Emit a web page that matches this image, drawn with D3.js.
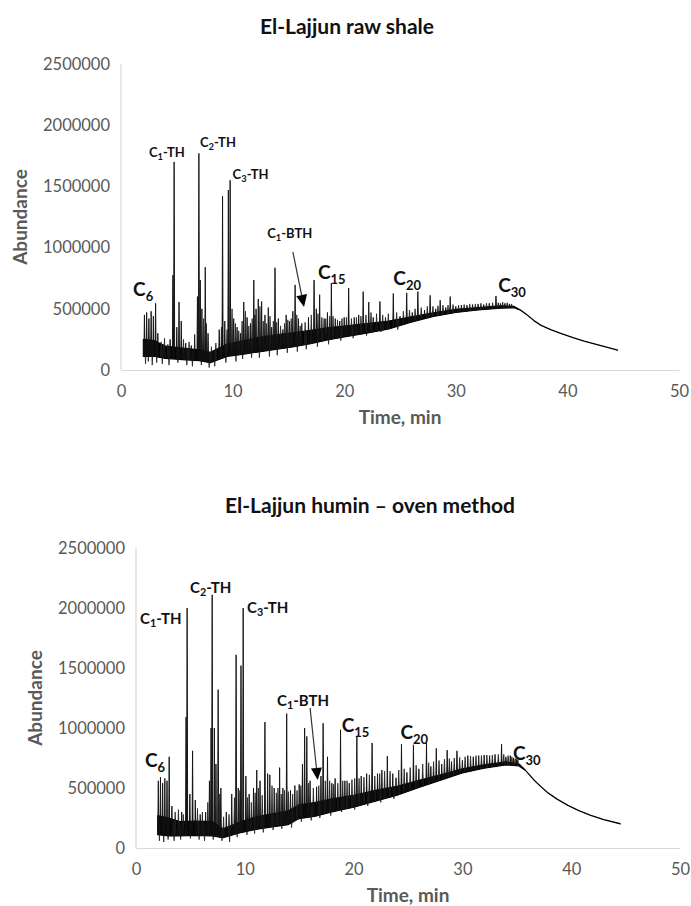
<!DOCTYPE html>
<html>
<head>
<meta charset="utf-8">
<script src="https://cdn.jsdelivr.net/npm/d3@7"></script>
<style>
  body { margin: 0; background: #fff; }
  text { font-family: Lato, "Open Sans", sans-serif; }
</style>
</head>
<body>
<script>
// ---------- data ----------
const xTicks = [0, 10, 20, 30, 40, 50];
const yTicks = [0, 500000, 1000000, 1500000, 2000000, 2500000];

// raw shale: baseline band (time, low edge, high edge)
const rawBandT  = [2.0, 3.0, 4.0, 5.5, 7.0, 8.0, 9.5, 11, 12.5, 14, 15.5, 17, 18.5, 20, 22, 24, 26, 28, 30, 32, 34, 35.2,
                   35.8, 36.4, 37.0, 37.6, 38.5, 39.4, 40.5, 41.5, 42.5, 43.5, 44.5];
const rawBandLo = [110000, 110000, 95000, 85000, 75000, 60000, 110000, 130000, 150000, 170000, 190000, 215000, 245000, 270000, 300000, 335000, 390000, 438000, 470000, 490000, 505000, 508000,
                   488000, 448000, 403000, 366000, 328000, 298000, 263000, 235000, 211000, 186000, 161000];
const rawBandHi = [250000, 240000, 195000, 180000, 165000, 145000, 210000, 240000, 270000, 290000, 305000, 325000, 345000, 360000, 380000, 400000, 435000, 468000, 495000, 510000, 525000, 520000,
                   490000, 450000, 405000, 368000, 330000, 300000, 265000, 237000, 213000, 188000, 163000];
// raw shale: main peaks (time, apex abundance)
const rawPeakT = [2.1, 2.3, 2.5, 2.7, 2.9, 3.1, 3.3, 4.4, 4.65, 4.76, 5.0, 5.2, 5.4, 5.8, 6.3, 6.6, 6.85, 6.98, 7.1, 7.25, 7.55, 7.8,
                  8.8, 9.1, 9.3, 9.62, 9.78, 10.1, 10.4, 10.7, 11.0, 11.3, 11.6, 11.9, 12.1, 12.3, 12.6, 12.9, 13.2, 13.5, 13.8, 14.1,
                  14.5, 14.8, 15.1, 15.4, 15.6, 15.9, 16.2, 16.8, 17.3, 17.5, 17.8, 18.2, 18.5, 18.85, 19.2, 19.6, 20.0, 20.4, 20.9,
                  21.3, 21.7, 22.2, 22.6, 23.2, 23.7, 24.4, 25.0, 25.6, 26.1, 26.6, 27.2, 27.7, 28.2, 28.6, 29.1, 29.5, 30.0, 30.5,
                  31.0, 31.5, 32.0, 32.5, 33.0, 33.6, 34.0, 34.4, 34.8];
const rawPeakH = [450000, 470000, 420000, 480000, 440000, 545000, 300000, 250000, 775000, 1700000, 350000, 555000, 400000, 220000, 200000, 290000, 600000, 1770000, 735000, 500000, 840000, 300000,
                  330000, 1420000, 400000, 1470000, 1550000, 420000, 350000, 300000, 555000, 430000, 380000, 735000, 500000, 580000, 560000, 450000, 510000, 350000, 835000, 420000,
                  330000, 450000, 400000, 480000, 695000, 420000, 380000, 430000, 735000, 500000, 615000, 420000, 470000, 710000, 420000, 400000, 430000, 670000, 430000,
                  450000, 640000, 555000, 430000, 560000, 430000, 625000, 440000, 630000, 470000, 640000, 490000, 610000, 500000, 570000, 510000, 600000, 520000, 530000,
                  530000, 535000, 540000, 535000, 545000, 605000, 545000, 545000, 540000];
// raw shale: small noise spikes on the baseline
const rawMinorT = [3.6, 3.9, 4.2, 5.6, 6.1, 7.4, 7.65, 8.1, 8.5, 9.0, 9.5, 9.95, 10.25, 10.55, 10.85, 11.15, 11.45, 11.75, 12.0, 12.45,
                   12.75, 13.05, 13.35, 13.65, 13.95, 14.3, 14.65, 14.95, 15.25, 15.75, 16.05, 16.5, 17.05, 17.65, 18.0, 18.35, 18.7, 19.0,
                   19.4, 19.8, 20.2, 20.65, 21.1, 21.5, 21.95, 22.4, 22.9, 23.45, 23.95, 24.7, 25.3, 25.85, 26.35, 26.9, 27.45, 27.95,
                   28.4, 28.85, 29.3, 29.75, 30.25, 30.75, 31.25, 31.75, 32.25, 32.75, 33.3, 33.8, 34.2, 34.6, 35.0];
const rawMinorH = [230000, 260000, 210000, 250000, 230000, 420000, 380000, 190000, 220000, 350000, 330000, 500000, 380000, 320000, 400000, 480000, 360000, 420000, 450000, 520000,
                   400000, 380000, 440000, 400000, 390000, 360000, 380000, 410000, 420000, 450000, 360000, 390000, 450000, 460000, 430000, 420000, 440000, 440000,
                   410000, 420000, 430000, 420000, 430000, 440000, 450000, 470000, 460000, 450000, 460000, 470000, 480000, 490000, 500000, 510000, 520000, 520000,
                   525000, 530000, 530000, 535000, 530000, 535000, 540000, 540000, 545000, 545000, 550000, 550000, 555000, 550000, 540000];
// raw shale: downward noise below the band (time, lowest abundance)
const rawDipT = [2.2, 2.45, 2.8, 3.2, 3.7, 4.3, 5.1, 5.9, 6.4, 7.2, 7.9, 8.4, 9.4, 10.3, 10.9, 11.7, 12.4, 13.3, 14.0, 14.9,
                 15.8, 16.6, 17.6, 18.6, 19.7, 20.8, 22.0, 23.3, 24.8];
const rawDipV = [50000, 70000, 40000, 60000, 50000, 40000, 60000, 40000, 30000, 40000, 20000, 30000, 60000, 70000, 90000, 100000, 100000, 110000, 120000, 140000,
                 150000, 170000, 190000, 210000, 240000, 260000, 280000, 310000, 330000];

// humin (oven method): baseline band
const humBandT  = [2.0, 3.0, 4.0, 5.5, 7.0, 8.0, 9.5, 11, 12.5, 14, 15, 16.5, 18, 20, 22, 24, 26, 28, 30, 32, 34, 35.2,
                   35.8, 36.6, 37.2, 37.8, 38.7, 39.7, 40.7, 41.8, 43.0, 44.5];
const humBandLo = [110000, 100000, 100000, 105000, 100000, 85000, 125000, 155000, 175000, 195000, 245000, 265000, 300000, 340000, 390000, 440000, 505000, 565000, 625000, 665000, 693000, 683000,
                   646000, 563000, 511000, 463000, 406000, 354000, 311000, 271000, 236000, 201000];
const humBandHi = [270000, 250000, 220000, 225000, 220000, 160000, 215000, 260000, 285000, 310000, 360000, 380000, 410000, 440000, 480000, 515000, 565000, 610000, 660000, 693000, 718000, 700000,
                   648000, 565000, 513000, 465000, 408000, 356000, 313000, 273000, 238000, 203000];
const humPeakT = [2.05, 2.25, 2.45, 2.65, 2.85, 3.05, 3.3, 4.2, 4.6, 4.7, 4.95, 5.2, 5.45, 5.9, 6.4, 6.75, 6.9, 7.0, 7.2, 7.35, 7.55, 7.8,
                  8.3, 8.8, 9.2, 9.4, 9.65, 9.85, 10.1, 10.4, 10.8, 11.1, 11.4, 11.85, 12.1, 12.3, 12.7, 13.2, 13.5, 13.85, 14.2, 14.6,
                  15.0, 15.3, 15.5, 15.7, 16.0, 16.6, 17.0, 17.2, 17.6, 18.0, 18.3, 18.8, 19.2, 19.6, 20.3, 20.7, 21.2, 21.7, 22.2,
                  22.6, 23.1, 23.6, 23.9, 24.4, 24.9, 25.5, 26.0, 26.7, 27.1, 27.6, 28.1, 28.6, 29.0, 29.5, 30.0, 30.5, 31.0, 31.5,
                  32.0, 32.5, 33.0, 33.6, 34.0, 34.4, 34.7, 35.0];
const humPeakH = [560000, 590000, 540000, 580000, 560000, 760000, 350000, 300000, 1090000, 2000000, 450000, 810000, 400000, 280000, 300000, 560000, 1000000, 2110000, 1000000, 700000, 1320000, 500000,
                  300000, 450000, 1610000, 500000, 1520000, 2000000, 600000, 450000, 500000, 650000, 560000, 1050000, 620000, 610000, 500000, 670000, 500000, 1120000, 480000, 520000,
                  530000, 700000, 1000000, 930000, 560000, 510000, 600000, 1040000, 760000, 540000, 580000, 985000, 560000, 540000, 925000, 600000, 620000, 875000, 620000,
                  650000, 765000, 620000, 585000, 865000, 630000, 860000, 660000, 875000, 680000, 830000, 700000, 815000, 720000, 810000, 730000, 770000, 760000, 770000,
                  775000, 770000, 780000, 865000, 760000, 770000, 750000, 740000];
const humMinorT = [3.6, 3.9, 4.35, 5.65, 6.1, 6.6, 7.7, 8.05, 8.55, 9.05, 9.55, 10.25, 10.6, 10.95, 11.25, 11.6, 12.5, 12.9, 13.05, 13.35,
                   13.65, 14.0, 14.4, 14.8, 15.15, 15.85, 16.3, 16.8, 17.4, 17.8, 18.15, 18.55, 19.0, 19.4, 19.85, 20.1, 20.5, 20.95,
                   21.45, 21.95, 22.4, 22.85, 23.35, 24.15, 24.65, 25.2, 25.75, 26.35, 26.9, 27.35, 27.85, 28.35, 28.8, 29.25, 29.75,
                   30.25, 30.75, 31.25, 31.75, 32.25, 32.75, 33.3, 33.8, 34.2, 34.55, 34.85, 35.1];
const humMinorH = [300000, 320000, 280000, 330000, 300000, 380000, 450000, 260000, 280000, 420000, 480000, 420000, 380000, 460000, 500000, 440000, 520000, 460000, 500000, 450000,
                   480000, 470000, 450000, 480000, 520000, 540000, 500000, 520000, 560000, 560000, 530000, 540000, 560000, 560000, 570000, 580000, 580000, 590000,
                   610000, 600000, 620000, 640000, 640000, 650000, 660000, 670000, 690000, 700000, 710000, 720000, 730000, 740000, 745000, 750000, 755000,
                   760000, 765000, 770000, 770000, 775000, 775000, 780000, 780000, 770000, 760000, 745000, 735000];
const humDipT = [2.15, 2.55, 2.95, 3.5, 4.1, 5.0, 5.8, 6.3, 7.1, 7.9, 8.6, 9.3, 10.2, 10.9, 11.7, 12.6, 13.4, 14.3, 15.2, 16.1,
                 16.9, 17.9, 18.9, 20.1, 21.3, 22.5, 23.7];
const humDipV = [60000, 50000, 70000, 60000, 70000, 80000, 70000, 60000, 70000, 60000, 50000, 90000, 110000, 120000, 130000, 150000, 160000, 170000, 220000, 230000,
                 250000, 270000, 300000, 320000, 350000, 380000, 410000];

// peak labels: main letter, subscript, rest, anchor (time, abundance at baseline)
const rawLabels = [
  { c: "C", s: "6",  r: "",    t: 1.08, v: 605000,  big: true },
  { c: "C", s: "1",  r: "-TH", t: 2.5,  v: 1740000 },
  { c: "C", s: "2",  r: "-TH", t: 7.08, v: 1820000 },
  { c: "C", s: "3",  r: "-TH", t: 10.0, v: 1560000 },
  { c: "C", s: "1",  r: "-BTH", t: 13.1, v: 1080000 },
  { c: "C", s: "15", r: "",    t: 17.65, v: 743000, big: true },
  { c: "C", s: "20", r: "",    t: 24.4, v: 694000,  big: true },
  { c: "C", s: "30", r: "",    t: 33.8, v: 637000,  big: true }
];
const humLabels = [
  { c: "C", s: "6",  r: "",    t: 0.83, v: 675000,  big: true },
  { c: "C", s: "1",  r: "-TH", t: 0.37, v: 1870000 },
  { c: "C", s: "2",  r: "-TH", t: 4.96, v: 2125000 },
  { c: "C", s: "3",  r: "-TH", t: 10.2, v: 1960000 },
  { c: "C", s: "1",  r: "-BTH", t: 12.96, v: 1180000 },
  { c: "C", s: "15", r: "",    t: 18.9, v: 967000,  big: true },
  { c: "C", s: "20", r: "",    t: 24.3, v: 908000,  big: true },
  { c: "C", s: "30", r: "",    t: 34.65, v: 733000, big: true }
];
// C1-BTH arrows: [start time, start abundance, tip time, tip abundance]
const rawArrow = [15.4, 964000, 16.4, 515000];
const humArrow = [16.0, 1167000, 16.7, 567000];

// ---------- drawing ----------
const width = 691, height = 906;
const svg = d3.select("body").append("svg").attr("width", width).attr("height", height);

const panels = [
  { title: "El-Lajjun raw shale", left: 121, right: 679, top: 64, bottom: 370, titleX: 347, titleY: 34, labelSize: 13,
    bandT: rawBandT, bandLo: rawBandLo, bandHi: rawBandHi, peakT: rawPeakT, peakH: rawPeakH,
    minorT: rawMinorT, minorH: rawMinorH, dipT: rawDipT, dipV: rawDipV, labels: rawLabels, arrow: rawArrow },
  { title: "El-Lajjun humin  \u2013 oven method", left: 136, right: 680, top: 548, bottom: 848, titleX: 370, titleY: 513, labelSize: 15,
    bandT: humBandT, bandLo: humBandLo, bandHi: humBandHi, peakT: humPeakT, peakH: humPeakH,
    minorT: humMinorT, minorH: humMinorH, dipT: humDipT, dipV: humDipV, labels: humLabels, arrow: humArrow }
];

const drawPanel = (selection, p) => {
  const g = selection.append("g");
  const x = d3.scaleLinear().domain([0, 50]).range([p.left, p.right]);
  const y = d3.scaleLinear().domain([0, 2500000]).range([p.bottom, p.top]);
  // band edges as D3 piecewise scales: time -> abundance
  const footLo = d3.scaleLinear().domain(p.bandT).range(p.bandLo).clamp(true);
  const footHi = d3.scaleLinear().domain(p.bandT).range(p.bandHi).clamp(true);

  // axes
  const yAxis = g.append("g").attr("transform", `translate(${p.left},0)`)
    .call(d3.axisLeft(y).tickValues(yTicks).tickSize(0).tickPadding(11).tickFormat(d3.format("d")));
  const xAxis = g.append("g").attr("transform", `translate(0,${p.bottom})`)
    .call(d3.axisBottom(x).tickValues(xTicks).tickSize(0).tickPadding(15));
  [xAxis, yAxis].forEach(a => {
    a.select(".domain").attr("stroke", "#d9d9d9").attr("stroke-width", 1.2);
    a.selectAll("text").attr("fill", "#595959").style("font-size", "16.5px").style("font-family", "Lato, sans-serif");
  });
  yAxis.select(".domain").attr("d", `M0,${p.top}V${p.bottom}`);

  // titles
  g.append("text").attr("x", p.titleX).attr("y", p.titleY).attr("text-anchor", "middle")
    .attr("font-weight", "bold").attr("font-size", 21).attr("fill", "#111").text(p.title);
  g.append("text").attr("x", (p.left + p.right) / 2).attr("y", p.bottom + 54).attr("text-anchor", "middle")
    .attr("font-weight", "bold").attr("font-size", 19).attr("fill", "#595959").text("Time, min");
  g.append("text").attr("transform", `translate(${p.left - 94},${(p.top + p.bottom) / 2}) rotate(-90)`)
    .attr("text-anchor", "middle").attr("font-weight", "bold").attr("font-size", 19).attr("fill", "#595959").text("Abundance");

  // noisy baseline band
  const bandData = p.bandT.map((t, i) => ({ t, lo: p.bandLo[i], hi: p.bandHi[i] }));
  g.append("path").datum(bandData)
    .attr("d", d3.area().x(d => x(d.t)).y0(d => y(d.lo)).y1(d => y(d.hi)))
    .attr("fill", "#000").attr("stroke", "#000").attr("stroke-width", 1.1).attr("stroke-linejoin", "round");

  // spikes: dips below the band, minor noise, then the main peaks
  const spike = (w, base) => d => d3.line()([[x(d.t - w), y(base(d.t))], [x(d.t), y(d.h)], [x(d.t + w), y(base(d.t))]]);
  g.selectAll("path.dip").data(p.dipT.map((t, i) => ({ t, h: p.dipV[i] })))
    .join("path").attr("class", "dip").attr("d", spike(0.08, footHi))
    .attr("fill", "#000").attr("stroke", "#222").attr("stroke-width", 0.8);
  g.selectAll("path.minor").data(p.minorT.map((t, i) => ({ t, h: p.minorH[i] })))
    .join("path").attr("class", "minor").attr("d", spike(0.07, footLo))
    .attr("fill", "#000").attr("stroke", "#222").attr("stroke-width", 0.8);
  g.selectAll("path.peak").data(p.peakT.map((t, i) => ({ t, h: p.peakH[i] })))
    .join("path").attr("class", "peak").attr("d", spike(0.05, footLo))
    .attr("fill", "#000").attr("stroke", "#111").attr("stroke-width", 0.9);

  // labels
  g.selectAll("text.plabel").data(p.labels).join("text").attr("class", "plabel")
    .attr("x", d => x(d.t)).attr("y", d => y(d.v)).attr("font-weight", "bold").attr("fill", "#111")
    .attr("font-size", d => d.big ? 19 : p.labelSize)
    .each(function (d) {
      const t = d3.select(this);
      const sub = d.big ? 13 : p.labelSize * 0.72;
      t.append("tspan").text(d.c);
      t.append("tspan").attr("font-size", sub).attr("dy", d.big ? 5 : 3).text(d.s);
      if (d.r) t.append("tspan").attr("dy", -3).text(d.r);
    });

  // arrow to C1-BTH
  const [t0, v0, t1, v1] = p.arrow;
  const x0 = x(t0), y0 = y(v0), x1 = x(t1), y1 = y(v1);
  const ang = Math.atan2(y1 - y0, x1 - x0), L = 12, hw = 5.5;
  const bx = x1 - L * Math.cos(ang), by = y1 - L * Math.sin(ang);
  g.append("line").attr("x1", x0).attr("y1", y0).attr("x2", bx).attr("y2", by)
    .attr("stroke", "#333").attr("stroke-width", 1.2);
  g.append("path")
    .attr("d", d3.line()([[x1, y1], [bx + hw * Math.sin(ang), by - hw * Math.cos(ang)], [bx - hw * Math.sin(ang), by + hw * Math.cos(ang)]]) + "Z")
    .attr("fill", "#000");
};

panels.forEach(p => svg.call(drawPanel, p));
</script>
</body>
</html>
